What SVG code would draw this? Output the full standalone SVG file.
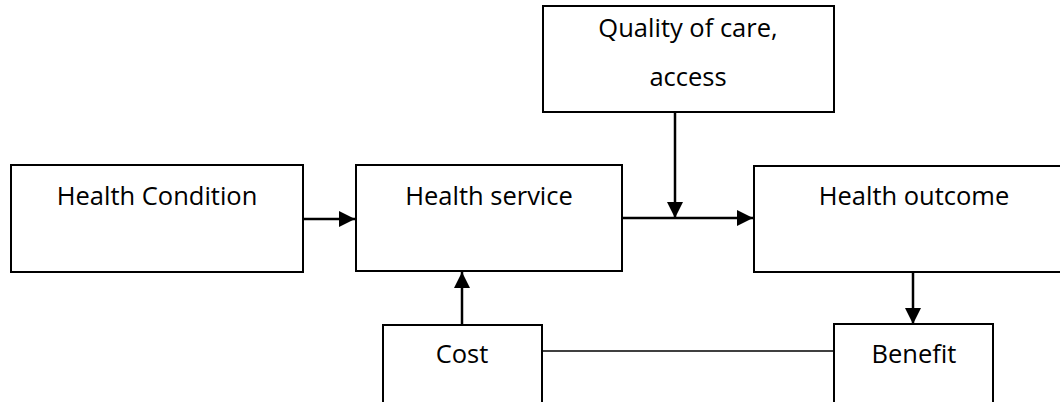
<svg xmlns="http://www.w3.org/2000/svg" width="1060" height="402" viewBox="0 0 1060 402">
<style>
.box{fill:#fff;stroke:#000;stroke-width:2}
.lbl{font-family:"Open Sans","Liberation Sans",sans-serif;font-size:25.5px;fill:#000;text-anchor:middle}
.edge{stroke:#000;stroke-width:2.5;fill:none}
.plain{stroke:#000;stroke-width:1.5;fill:none}
</style>
<defs>
<marker id="arr" markerUnits="userSpaceOnUse" markerWidth="18" markerHeight="16" refX="16" refY="8" orient="auto">
<path d="M0,0 L16,8 L0,16 Z" fill="#000"/>
</marker>
</defs>
<rect width="1060" height="402" fill="#fff"/>
<g id="connectors">
<line class="edge" x1="303" y1="219" x2="355" y2="219" marker-end="url(#arr)"/>
<line class="edge" x1="675" y1="112" x2="675" y2="218" marker-end="url(#arr)"/>
<line class="edge" x1="622" y1="218" x2="753" y2="218" marker-end="url(#arr)"/>
<line class="edge" x1="462" y1="325" x2="462" y2="272" marker-end="url(#arr)"/>
<line class="edge" x1="913" y1="272" x2="913" y2="324" marker-end="url(#arr)"/>
<line class="plain" x1="542" y1="351" x2="834" y2="351"/>
</g>
<g id="quality">
<rect class="box" x="543" y="6" width="291" height="106"/>
<text class="lbl" x="688" y="37">Quality of care,</text>
<text class="lbl" x="688" y="86">access</text>
</g>
<g id="health-condition">
<rect class="box" x="11" y="165" width="292" height="107"/>
<text class="lbl" x="157" y="205">Health Condition</text>
</g>
<g id="health-service">
<rect class="box" x="356" y="165" width="266" height="106"/>
<text class="lbl" x="489" y="205">Health service</text>
</g>
<g id="health-outcome">
<rect class="box" x="754" y="166" width="320" height="106"/>
<text class="lbl" x="914" y="205">Health outcome</text>
</g>
<g id="cost">
<rect class="box" x="383" y="325" width="159" height="100"/>
<text class="lbl" x="462" y="363">Cost</text>
</g>
<g id="benefit">
<rect class="box" x="834" y="324" width="159" height="100"/>
<text class="lbl" x="914" y="363">Benefit</text>
</g>
</svg>
